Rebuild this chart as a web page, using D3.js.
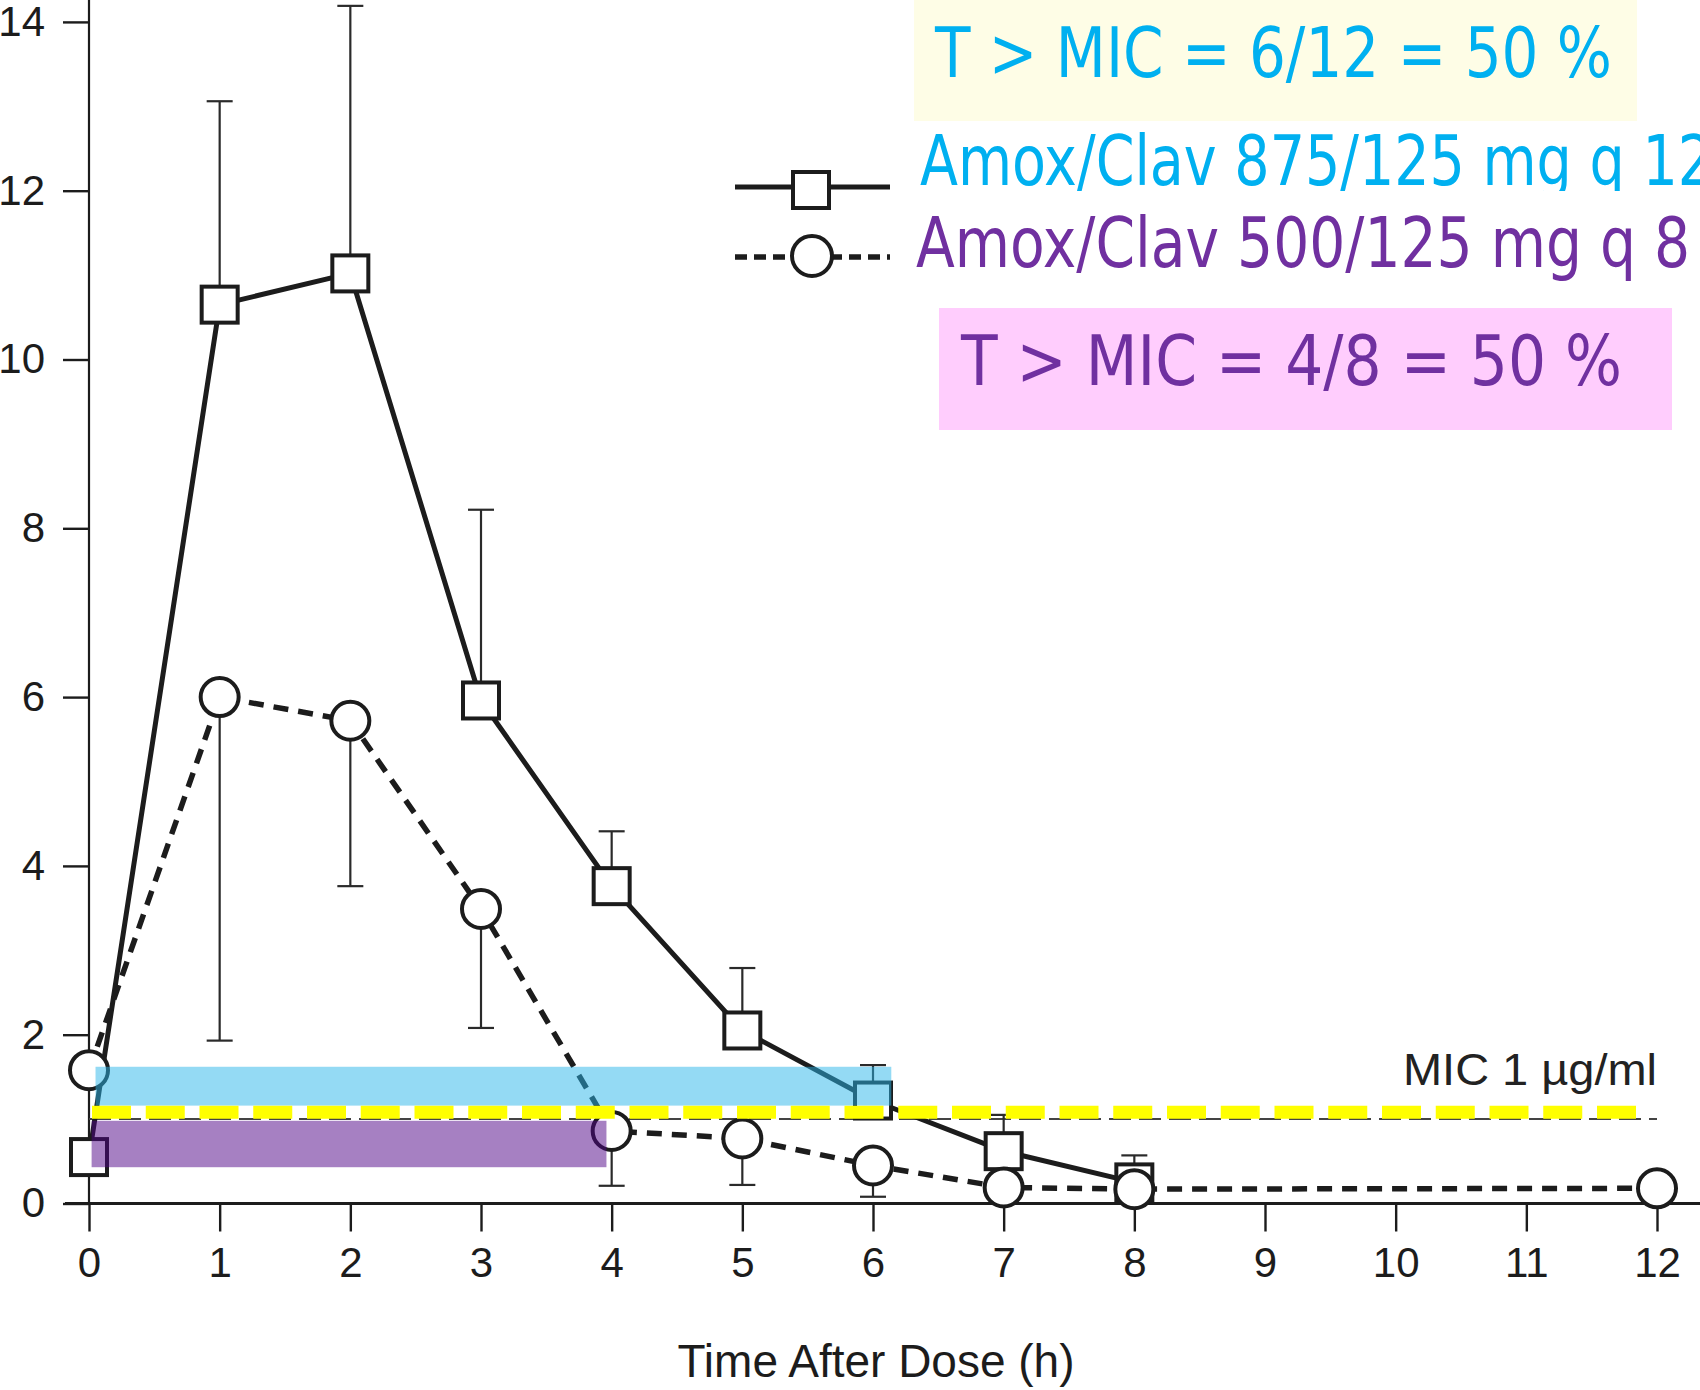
<!DOCTYPE html>
<html><head><meta charset="utf-8">
<script src="https://cdn.jsdelivr.net/npm/d3@7"></script>
<style>body{margin:0;background:#fff;} svg{display:block;}</style>
</head><body>
<svg id="chart" width="1700" height="1390"></svg>
<script>
// ---------- data ----------
const hoursQ12 = [0, 1, 2, 3, 4, 5, 6, 7, 8];
const meanQ12  = [0.55, 10.65, 11.02, 5.96, 3.76, 2.05, 1.22, 0.62, 0.25];
const upperQ12 = [null, 13.06, 14.19, 8.22, 4.41, 2.79, 1.64, 1.05, 0.57];

const hoursQ8 = [0, 1, 2, 3, 4, 5, 6, 7, 8, 12];
const meanQ8  = [1.58, 6.0, 5.72, 3.49, 0.86, 0.77, 0.45, 0.19, 0.17, 0.18];
const lowerQ8 = [null, 1.93, 3.76, 2.08, 0.21, 0.22, 0.08, null, null, null];

const xTicks = [0, 1, 2, 3, 4, 5, 6, 7, 8, 9, 10, 11, 12];
const yTicks = [0, 2, 4, 6, 8, 10, 12, 14];
const xTitle = "Time After Dose (h)";

const micValue = 1;
const micLabel = "MIC 1 \u00b5g/ml";
const micHighlightValue = 1.08;

const seriesLabels = ["Amox/Clav 875/125 mg q 12", "Amox/Clav 500/125 mg q 8"];
const noteLabels = ["T > MIC = 6/12 = 50 %", "T > MIC = 4/8 = 50 %"];

// time-above-MIC bands: [x0, x1, yLow, yHigh]
const bandQ12 = [0.05, 6.14, 1.16, 1.62];
const bandQ8  = [0.02, 3.96, 0.43, 0.98];

// ---------- drawing ----------
const svg = d3.select("#chart");
const x = d3.scaleLinear().domain([0, 12]).range([89, 1657]);
const y = d3.scaleLinear().domain([0, 14]).range([1203.5, 21.9]);

const ink = "#1c1c1c";
const axisFont = "'Liberation Sans', Arial, Helvetica, sans-serif";
const handFont = "'DejaVu Sans Condensed', 'Liberation Sans Narrow', 'Open Sans', sans-serif";

// axis lines
svg.append("line").attr("x1", x(0)).attr("x2", x(0)).attr("y1", 0).attr("y2", y(0))
  .attr("stroke", ink).attr("stroke-width", 2.2);
svg.append("line").attr("x1", 65).attr("x2", 1700).attr("y1", y(0)).attr("y2", y(0))
  .attr("stroke", ink).attr("stroke-width", 2.8);

const yAxis = svg.append("g").attr("transform", `translate(${x(0)},0)`)
  .call(d3.axisLeft(y).tickValues(yTicks).tickSize(26).tickPadding(18).tickFormat(d3.format("d")));
yAxis.select(".domain").remove();
yAxis.selectAll(".tick line").attr("stroke", ink).attr("stroke-width", 2.4);
yAxis.selectAll(".tick text").attr("font-family", axisFont).attr("font-size", 42).attr("fill", ink);

const xAxis = svg.append("g").attr("transform", `translate(0,${y(0)})`)
  .call(d3.axisBottom(x).tickValues(xTicks).tickSize(28).tickPadding(16).tickFormat(d3.format("d")));
xAxis.select(".domain").remove();
xAxis.selectAll(".tick line").attr("stroke", ink).attr("stroke-width", 2.4);
xAxis.selectAll(".tick text").attr("font-family", axisFont).attr("font-size", 42).attr("fill", ink);

svg.append("text").attr("x", 876).attr("y", 1377).attr("text-anchor", "middle")
  .attr("font-family", axisFont).attr("font-size", 46).attr("fill", ink).text(xTitle);

// MIC reference line + label
svg.append("line").attr("x1", x(0)).attr("x2", x(12)).attr("y1", y(micValue)).attr("y2", y(micValue))
  .attr("stroke", "#444").attr("stroke-width", 2).attr("stroke-dasharray", "22,8");
svg.append("text").attr("x", x(12)).attr("y", 1085).attr("text-anchor", "end")
  .attr("font-family", axisFont).attr("font-size", 44).attr("fill", "#222")
  .attr("textLength", 254).attr("lengthAdjust", "spacingAndGlyphs").text(micLabel);

// error bars
const capW = 13;
const q12 = hoursQ12.map((h, i) => ({h, m: meanQ12[i], e: upperQ12[i]}));
const q8 = hoursQ8.map((h, i) => ({h, m: meanQ8[i], e: lowerQ8[i]}));
const eb = svg.append("g").attr("stroke", "#2a2a2a").attr("stroke-width", 2.2);
[...q12, ...q8].filter(d => d.e != null).forEach(d => {
  eb.append("line").attr("x1", x(d.h)).attr("x2", x(d.h)).attr("y1", y(d.m)).attr("y2", y(d.e));
  eb.append("line").attr("x1", x(d.h) - capW).attr("x2", x(d.h) + capW).attr("y1", y(d.e)).attr("y2", y(d.e));
});

// lines
const line = d3.line().x(d => x(d.h)).y(d => y(d.m));
svg.append("path").datum(q12).attr("d", line).attr("fill", "none")
  .attr("stroke", ink).attr("stroke-width", 5).attr("stroke-linejoin", "round");
svg.append("path").datum(q8).attr("d", line).attr("fill", "none")
  .attr("stroke", ink).attr("stroke-width", 5.5).attr("stroke-dasharray", "15,10");

// markers
const sq = 36;
svg.append("g").selectAll("rect").data(q12).join("rect")
  .attr("x", d => x(d.h) - sq / 2).attr("y", d => y(d.m) - sq / 2)
  .attr("width", sq).attr("height", sq)
  .attr("fill", "#fff").attr("stroke", ink).attr("stroke-width", 4);
svg.append("g").selectAll("circle").data(q8).join("circle")
  .attr("cx", d => x(d.h)).attr("cy", d => y(d.m)).attr("r", 19)
  .attr("fill", "#fff").attr("stroke", ink).attr("stroke-width", 4);

// highlight bands
svg.append("rect").attr("x", x(bandQ12[0])).attr("width", x(bandQ12[1]) - x(bandQ12[0]))
  .attr("y", y(bandQ12[3])).attr("height", y(bandQ12[2]) - y(bandQ12[3]))
  .attr("fill", "#29b6ea").attr("fill-opacity", 0.5);
svg.append("rect").attr("x", x(bandQ8[0])).attr("width", x(bandQ8[1]) - x(bandQ8[0]))
  .attr("y", y(bandQ8[3])).attr("height", y(bandQ8[2]) - y(bandQ8[3]))
  .attr("fill", "#4d0185").attr("fill-opacity", 0.5);

// yellow MIC highlight dashes
svg.append("line").attr("x1", 92).attr("x2", 1636)
  .attr("y1", y(micHighlightValue)).attr("y2", y(micHighlightValue))
  .attr("stroke", "#ffff00").attr("stroke-width", 13).attr("stroke-dasharray", "39,14.75");

// legend
const lg = svg.append("g");
lg.append("line").attr("x1", 735).attr("x2", 890).attr("y1", 187).attr("y2", 187)
  .attr("stroke", ink).attr("stroke-width", 5);
lg.append("rect").attr("x", 811 - sq / 2).attr("y", 190 - sq / 2).attr("width", sq).attr("height", sq)
  .attr("fill", "#fff").attr("stroke", ink).attr("stroke-width", 4);
lg.append("line").attr("x1", 735).attr("x2", 890).attr("y1", 257).attr("y2", 257)
  .attr("stroke", ink).attr("stroke-width", 5.5).attr("stroke-dasharray", "12,7");
lg.append("circle").attr("cx", 812).attr("cy", 256).attr("r", 20)
  .attr("fill", "#fff").attr("stroke", ink).attr("stroke-width", 4);

// annotation boxes and texts
svg.append("rect").attr("x", 914).attr("y", 0).attr("width", 723).attr("height", 121).attr("fill", "#fefde6");
svg.append("text").attr("x", 935).attr("y", 77).attr("font-family", handFont).attr("font-size", 70)
  .attr("fill", "#00b0f0").attr("textLength", 677).attr("lengthAdjust", "spacingAndGlyphs").text(noteLabels[0]);

svg.append("defs").append("clipPath").attr("id", "clipTop")
  .append("rect").attr("x", 0).attr("y", 0).attr("width", 1700).attr("height", 191);
svg.append("text").attr("x", 920).attr("y", 185).attr("font-family", handFont).attr("font-size", 70)
  .attr("clip-path", "url(#clipTop)")
  .attr("fill", "#00b0f0").attr("textLength", 793).attr("lengthAdjust", "spacingAndGlyphs").text(seriesLabels[0]);
svg.append("text").attr("x", 916).attr("y", 267).attr("font-family", handFont).attr("font-size", 70)
  .attr("fill", "#7030a0").attr("textLength", 774).attr("lengthAdjust", "spacingAndGlyphs").text(seriesLabels[1]);

svg.append("rect").attr("x", 939).attr("y", 308).attr("width", 733).attr("height", 122).attr("fill", "#ffcdfd");
svg.append("text").attr("x", 961).attr("y", 385).attr("font-family", handFont).attr("font-size", 70)
  .attr("fill", "#7030a0").attr("textLength", 661).attr("lengthAdjust", "spacingAndGlyphs").text(noteLabels[1]);
</script>
</body></html>
